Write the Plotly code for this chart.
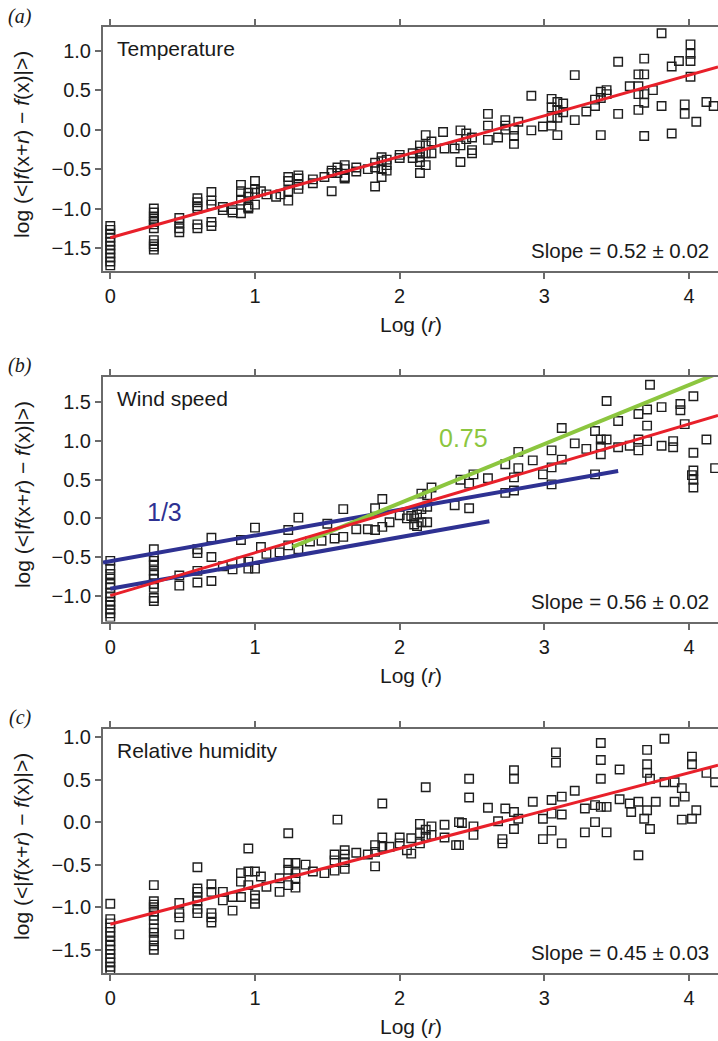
import plotly.graph_objects as go

# ---------------- data ----------------
# Panel (a) Temperature: x positions (log r) and y values at each
temp_xpos = [0.0, 0.301, 0.477, 0.602, 0.699, 0.778, 0.845, 0.903, 0.954, 1.0,
             1.041, 1.079, 1.146, 1.176, 1.23, 1.30, 1.40, 1.48, 1.53, 1.57,
             1.62, 1.70, 1.78, 1.83, 1.875, 1.91, 2.0, 2.09, 2.14, 2.18,
             2.22, 2.30, 2.31, 2.38, 2.42, 2.46, 2.50, 2.61, 2.68, 2.73,
             2.79, 2.82, 2.91, 2.99, 3.05, 3.09, 3.13, 3.21, 3.29, 3.35,
             3.39, 3.43, 3.51, 3.59, 3.65, 3.69, 3.75, 3.81, 3.88, 3.93,
             3.97, 4.01, 4.05, 4.12, 4.17]
temp_yvals = [
    [-1.22, -1.27, -1.32, -1.37, -1.42, -1.47, -1.52, -1.57, -1.62, -1.67, -1.72],
    [-1.0, -1.05, -1.1, -1.13, -1.17, -1.2, -1.25, -1.4, -1.45, -1.48, -1.52],
    [-1.12, -1.18, -1.25, -1.3],
    [-0.87, -0.92, -0.97, -1.0, -1.2, -1.25],
    [-0.79, -0.9, -0.95, -1.17, -1.22],
    [-0.98, -1.02],
    [-1.02, -1.05],
    [-0.7, -0.78, -0.9, -1.06],
    [-0.8, -0.85, -0.98, -1.0],
    [-0.65, -0.75, -0.8, -0.95],
    [-0.78], [-0.82], [-0.85], [-0.82],
    [-0.6, -0.65, -0.78, -0.9],
    [-0.58, -0.62, -0.7, -0.75],
    [-0.63, -0.68], [-0.6],
    [-0.52, -0.55, -0.78],
    [-0.48, -0.55],
    [-0.45, -0.5, -0.6, -0.62],
    [-0.48, -0.53], [-0.5],
    [-0.42, -0.48, -0.72],
    [-0.35, -0.4, -0.5, -0.6],
    [-0.38, -0.45, -0.52],
    [-0.32, -0.36],
    [-0.36, -0.3],
    [-0.2, -0.28, -0.35, -0.41, -0.55],
    [-0.07, -0.2, -0.3, -0.45],
    [-0.15, -0.3], [-0.03], [-0.24], [-0.24],
    [-0.01, -0.2, -0.41],
    [-0.05, -0.12],
    [-0.1, -0.3, -0.26],
    [0.2, 0.05, -0.13], [-0.1],
    [0.12, 0.0, 0.05],
    [0.0, -0.08, -0.18], [0.1],
    [0.43, -0.01], [0.04],
    [0.39, 0.28, 0.15, 0.05],
    [-0.07, 0.35, 0.25, 0.15],
    [0.33, 0.22],
    [0.69, 0.12], [0.23],
    [0.38, 0.3],
    [0.48, 0.4, -0.07],
    [0.45, 0.5],
    [0.86, 0.2], [0.55],
    [0.7, 0.55, 0.45, 0.25],
    [0.9, 0.7, 0.45, 0.34, -0.08],
    [0.5],
    [1.22, 0.3],
    [0.8, -0.05], [0.87],
    [0.32, 0.2],
    [1.08, 0.96, 0.87, 0.67],
    [0.1], [0.35], [0.3],
]

# Panel (b) Wind speed
wind_xpos = [0.0, 0.301, 0.477, 0.602, 0.699, 0.778, 0.845, 0.903, 0.954, 1.0,
             1.041, 1.079, 1.17, 1.23, 1.30, 1.38, 1.46, 1.5, 1.55, 1.61,
             1.70, 1.78, 1.83, 1.88, 1.93, 2.0, 2.05, 2.08, 2.10, 2.12,
             2.15, 2.19, 2.22, 2.38, 2.42, 2.48, 2.51, 2.61, 2.73, 2.79,
             2.82, 2.92, 2.99, 3.05, 3.12, 3.21, 3.29, 3.35, 3.39, 3.43,
             3.51, 3.59, 3.65, 3.71, 3.73, 3.81, 3.89, 3.94, 3.97, 4.02,
             4.03, 4.12, 4.18]
wind_yvals = [
    [-0.55, -0.65, -0.72, -0.78, -0.85, -0.9, -0.97, -1.02, -1.08, -1.12, -1.18, -1.23, -1.28],
    [-0.4, -0.5, -0.55, -0.6, -0.68, -0.73, -0.78, -0.85, -0.9, -1.03, -1.07],
    [-0.74, -0.87],
    [-0.4, -0.45, -0.68, -0.83],
    [-0.25, -0.5, -0.81],
    [-0.62], [-0.66],
    [-0.28, -0.56],
    [-0.56, -0.65],
    [-0.12, -0.65],
    [-0.37], [-0.46], [-0.44],
    [-0.15, -0.35],
    [0.01, -0.4],
    [-0.3], [-0.29], [-0.07], [-0.26],
    [0.12, -0.24],
    [-0.14], [-0.14],
    [0.13, -0.15],
    [0.25, -0.11],
    [-0.05], [0.04], [0.0], [0.03],
    [-0.08, 0.0],
    [0.05, -0.1],
    [0.32, 0.12, -0.05],
    [0.3, 0.15, -0.05],
    [0.4], [0.17], [0.5],
    [0.45, 0.13],
    [0.57], [0.52],
    [0.7, 0.33],
    [0.53, 0.36],
    [0.86, 0.65],
    [0.75], [0.57],
    [0.88, 0.66, 0.44],
    [1.17, 0.76],
    [0.97], [0.9],
    [1.13, 0.57],
    [1.02, 0.93, 0.83],
    [1.52, 1.02],
    [1.26, 0.92],
    [0.94],
    [1.35, 1.02, 0.88],
    [1.41, 1.2, 1.0],
    [1.73],
    [1.44, 0.94],
    [1.0, 0.92],
    [1.48, 1.4],
    [1.22],
    [0.56],
    [1.58, 0.85, 0.62, 0.5, 0.4],
    [1.02], [0.65],
]

# Panel (c) Relative humidity
hum_xpos = [0.0, 0.301, 0.477, 0.602, 0.699, 0.778, 0.845, 0.903, 0.954, 1.0,
            1.041, 1.079, 1.17, 1.23, 1.28, 1.35, 1.40, 1.48, 1.55, 1.57,
            1.62, 1.70, 1.78, 1.83, 1.88, 1.93, 2.0, 2.05, 2.08, 2.14,
            2.18, 2.22, 2.31, 2.39, 2.41, 2.43, 2.48, 2.51, 2.61, 2.68,
            2.71, 2.73, 2.79, 2.82, 2.92, 2.99, 3.05, 3.08, 3.12, 3.21,
            3.28, 3.35, 3.39, 3.43, 3.52, 3.59, 3.60, 3.65, 3.69, 3.71,
            3.73, 3.77, 3.83, 3.90, 3.95, 3.97, 4.02, 4.05, 4.12, 4.18]
hum_yvals = [
    [-0.96, -1.14, -1.19, -1.24, -1.29, -1.34, -1.4, -1.45, -1.5, -1.55, -1.6, -1.65, -1.7, -1.74],
    [-0.74, -0.93, -0.97, -1.0, -1.05, -1.1, -1.15, -1.25, -1.3, -1.38, -1.45, -1.5],
    [-0.95, -1.07, -1.12, -1.32],
    [-0.53, -0.78, -0.82, -0.88, -0.93, -1.02, -1.07],
    [-0.73, -0.82, -1.07, -1.12, -1.18],
    [-0.82, -0.92],
    [-0.88, -1.04],
    [-0.6, -0.7, -0.88],
    [-0.31, -0.58, -0.74],
    [-0.58, -0.86, -0.9, -0.96],
    [-0.64], [-0.76],
    [-0.66, -0.82],
    [-0.13, -0.48, -0.56, -0.74],
    [-0.48, -0.6, -0.66, -0.77],
    [-0.5], [-0.58], [-0.6],
    [-0.38, -0.45, -0.57],
    [0.03],
    [-0.33, -0.38, -0.47, -0.55],
    [-0.36], [-0.38],
    [-0.27, -0.35, -0.52],
    [0.22, -0.18, -0.29],
    [-0.29],
    [-0.18, -0.25],
    [-0.33],
    [-0.19, -0.37],
    [-0.02, -0.13, -0.25],
    [0.41, -0.09, -0.17],
    [-0.05, -0.15],
    [-0.03, -0.18],
    [-0.27],
    [0.0, -0.27],
    [-0.01],
    [0.51, 0.29],
    [-0.05, -0.15],
    [0.17], [0.01],
    [-0.2, -0.25],
    [0.16],
    [0.61, 0.51, 0.12, -0.08],
    [0.04], [0.24],
    [0.04, -0.2],
    [0.26, 0.1, -0.1],
    [0.82, 0.7],
    [0.3, 0.09, -0.25],
    [0.37],
    [0.16, -0.12],
    [0.0, 0.2],
    [0.93, 0.73, 0.51, 0.18],
    [0.18, -0.12],
    [0.62, 0.27],
    [0.22], [0.12],
    [0.24, -0.39],
    [0.04],
    [0.85, 0.68, 0.58, 0.14],
    [0.51, -0.08],
    [0.24],
    [0.98, 0.47],
    [0.47, 0.24],
    [0.4, 0.03],
    [0.3],
    [0.77, 0.68, 0.04],
    [0.14], [0.58], [0.47],
]

# Fitted / reference lines: (x start, x end, intercept, slope)
temp_fit = (0.0, 4.2, -1.37, 0.515)
wind_fit = (0.0, 4.2, -1.0, 0.555)
hum_fit = (0.0, 4.2, -1.2, 0.445)
wind_third_hi = (-0.05, 3.51, -0.555, 0.333)
wind_third_lo = (0.0, 2.62, -0.91, 0.333)
wind_075 = (1.26, 4.2, -0.37 - 0.765 * 1.26, 0.765)

panel_titles = ["Temperature", "Wind speed", "Relative humidity"]
slope_texts = ["Slope = 0.52 ± 0.02", "Slope = 0.56 ± 0.02", "Slope = 0.45 ± 0.03"]
panel_letters = ["(a)", "(b)", "(c)"]
x_ticks = [0, 1, 2, 3, 4]
y_ticks = [[-1.5, -1.0, -0.5, 0.0, 0.5, 1.0],
           [-1.0, -0.5, 0.0, 0.5, 1.0, 1.5],
           [-1.5, -1.0, -0.5, 0.0, 0.5, 1.0]]
y_ranges = [[-1.79, 1.30], [-1.335, 1.835], [-1.774, 1.098]]
x_range = [-0.0504, 4.2]

# ---------------- layout geometry (pixels) ----------------
W, H = 718, 1041
ML, MR, MT, MB = 103, 0, 27, 67.7
plot_h = H - MT - MB
panel_px = [(27, 271), (376.7, 621.7), (729, 973.3)]  # top, bottom


def py2paper(py):
    return (H - MB - py) / plot_h


def px2paper(px):
    return (px - ML) / (W - ML - MR)


FONT = "Liberation Sans, Arial, sans-serif"
SQ = "#1e1e1e"
RED = "#e8202a"
BLUE = "#2e3192"
GREEN = "#8cc63f"
AXC = "#6a6a6a"


def flatten(xpos, yvals):
    xs, ys = [], []
    for xv, grp in zip(xpos, yvals):
        for yv in grp:
            xs.append(xv)
            ys.append(yv)
    return xs, ys


def line_trace(spec, color, width, k):
    x0, x1, b, m = spec
    return go.Scatter(x=[x0, x1], y=[b + m * x0, b + m * x1], mode="lines",
                      line=dict(color=color, width=width),
                      xaxis="x" + ("" if k == 1 else str(k)),
                      yaxis="y" + ("" if k == 1 else str(k)),
                      showlegend=False, hoverinfo="skip")


fig = go.Figure()
datasets = [(temp_xpos, temp_yvals), (wind_xpos, wind_yvals), (hum_xpos, hum_yvals)]
fits = [temp_fit, wind_fit, hum_fit]

for i, (xp, yv) in enumerate(datasets):
    k = i + 1
    xs, ys = flatten(xp, yv)
    fig.add_trace(go.Scatter(
        x=xs, y=ys, mode="markers",
        marker=dict(symbol="square-open", size=8.5, color=SQ, line=dict(width=1.4, color=SQ)),
        xaxis="x" + ("" if k == 1 else str(k)), yaxis="y" + ("" if k == 1 else str(k)),
        showlegend=False))
    if k == 2:
        fig.add_trace(line_trace(wind_third_hi, BLUE, 4, k))
        fig.add_trace(line_trace(wind_third_lo, BLUE, 4, k))
        fig.add_trace(line_trace(wind_075, GREEN, 4, k))
    fig.add_trace(line_trace(fits[i], RED, 3, k))

layout = dict(
    width=W, height=H,
    margin=dict(l=ML, r=MR, t=MT, b=MB, autoexpand=False),
    paper_bgcolor="white", plot_bgcolor="white",
    font=dict(family=FONT, size=20, color="#1a1a1a"),
    showlegend=False,
)
annotations = []
for i in range(3):
    k = i + 1
    suf = "" if k == 1 else str(k)
    top, bot = panel_px[i]
    layout["xaxis" + suf] = dict(
        domain=[0, 1], range=x_range, anchor="y" + suf,
        tickvals=x_ticks, ticks="outside", ticklen=6, tickwidth=1.5, tickcolor=AXC,
        showline=True, linecolor=AXC, linewidth=2, mirror="ticks",
        showgrid=False, zeroline=False, tickfont=dict(size=20, color="#1a1a1a"))
    layout["yaxis" + suf] = dict(
        domain=[py2paper(bot), py2paper(top)], range=y_ranges[i], anchor="x" + suf,
        tickvals=y_ticks[i], tickformat=".1f", ticks="outside", ticklen=6, tickwidth=1.5,
        tickcolor=AXC, showline=True, linecolor=AXC, linewidth=2, mirror=False,
        showgrid=False, zeroline=False, tickfont=dict(size=20, color="#1a1a1a"))
    # panel title inside
    annotations.append(dict(text=panel_titles[i], xref="x" + suf + " domain", yref="y" + suf + " domain",
                            x=0.0195, y=(bot - (top + 22)) / (bot - top), xanchor="left", yanchor="middle",
                            showarrow=False, font=dict(size=21, family=FONT, color="#1a1a1a")))
    # slope text
    annotations.append(dict(text=slope_texts[i], xref="x" + suf + " domain", yref="y" + suf + " domain",
                            x=0.989, y=0.082, xanchor="right", yanchor="middle",
                            showarrow=False, font=dict(size=20.5, family=FONT, color="#1a1a1a")))
    # x axis title
    annotations.append(dict(text="Log (<i>r</i>)", xref="paper", yref="paper",
                            x=0.5, y=py2paper(bot + 54), xanchor="center", yanchor="middle",
                            showarrow=False, font=dict(size=21, family=FONT, color="#1a1a1a")))
    # y axis title
    annotations.append(dict(text="log (&lt;|<i>f</i>(x+<i>r</i>) − <i>f</i>(x)|&gt;)",
                            xref="paper", yref="paper", textangle=-90,
                            x=px2paper(22), y=py2paper((top + bot) / 2 - 4),
                            xanchor="center", yanchor="middle", showarrow=False,
                            font=dict(size=21, family=FONT, color="#1a1a1a")))
    # panel letter
    annotations.append(dict(text="<i>" + panel_letters[i] + "</i>", xref="paper", yref="paper",
                            x=px2paper(20), y=py2paper(top - 11), xanchor="center", yanchor="middle",
                            showarrow=False,
                            font=dict(size=20, family="Liberation Serif, Times New Roman, serif",
                                      color="#1a1a1a")))

annotations.append(dict(text="1/3", xref="x2", yref="y2", x=0.373, y=0.08, showarrow=False,
                        xanchor="center", yanchor="middle",
                        font=dict(size=25, family=FONT, color=BLUE)))
annotations.append(dict(text="0.75", xref="x2", yref="y2", x=2.44, y=1.04, showarrow=False,
                        xanchor="center", yanchor="middle",
                        font=dict(size=25, family=FONT, color=GREEN)))
layout["annotations"] = annotations
fig.update_layout(**layout)

fig.write_html("out.html")
